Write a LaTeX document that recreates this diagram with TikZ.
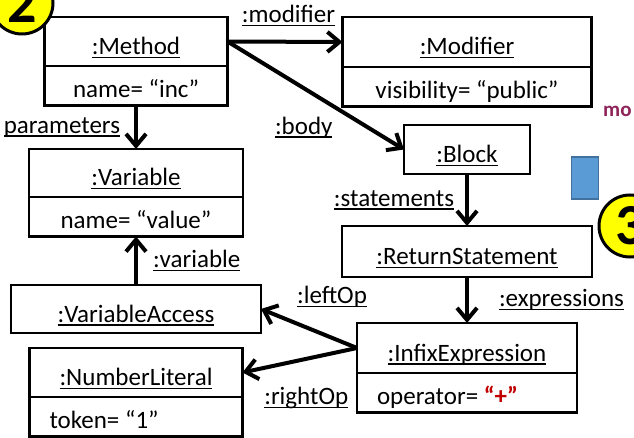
\documentclass[tikz,border=0pt]{standalone}
\usepackage{fontspec}
\setmainfont{Carlito}
\usepackage{tikz}
\usetikzlibrary{arrows.meta,positioning}
\definecolor{umlRed}{HTML}{C00000}
\definecolor{umlBlue}{HTML}{5B9BD5}
\definecolor{umlBlueD}{HTML}{41719C}
\definecolor{umlYel}{HTML}{FFFF00}
\definecolor{umlMag}{HTML}{8E2459}
\newcommand{\undl}[1]{\setbox0\hbox{#1}\rlap{\vrule height -2.2pt depth 3.5pt width \wd0}\box0}

\begin{document}
\begin{tikzpicture}[
  x=1pt, y=-1pt,
  font=\fontsize{25}{30}\selectfont,
  base/.style  = {draw, line width=2.3pt, inner sep=0pt, outer sep=0pt},
  head/.style  = {base, minimum height=49pt, text height=30pt, text depth=4pt},
  attr/.style  = {base, minimum height=39.5pt, text height=28pt, text depth=4pt},
  attrl/.style = {attr, align=flush left, inner xsep=20pt},
  arr/.style   = {-{Straight Barb[length=12pt, width=20pt]}, line width=4pt},
  lbl/.style   = {inner sep=1pt},
  badge/.style = {circle, draw, line width=3pt, fill=umlYel, minimum size=62pt,
                  inner sep=0pt, font=\fontsize{58}{60}\selectfont\bfseries},
]
\useasboundingbox (0,0) rectangle (634,438);
\clip (0,0) rectangle (634,438);
\fill[white] (0,0) rectangle (634,438);

%── Method and its modifier ───────────────────────────────────────────────
\node[head, minimum width=183pt] (meth) at (136,41.5) {\undl{:Method}};
\node[attr, minimum width=183pt, below=0pt of meth] (methv) {name= “inc”};
\node[head, minimum width=249pt, minimum height=50pt] (mod) at (467,42) {\undl{:Modifier}};
\node[attr, minimum width=249pt, below=0pt of mod] (modv) {visibility= “public”};

%── Left column ──────────────────────────────────────────────────────────
\node[head, minimum width=214pt, minimum height=48pt] (var) at (136,173) {\undl{:Variable}};
\node[attr, minimum width=214pt, below=0pt of var] (varv) {name= “value”};
\node[head, minimum width=250pt, minimum height=48pt] (vacc) at (136,309) {\undl{:VariableAccess}};
\node[head, minimum width=213pt] (num) at (136,372.5) {\undl{:NumberLiteral}};
\node[attrl, text width=173pt, below=0pt of num] (numv) {token= “1”};

%── Right column ─────────────────────────────────────────────────────────
\node[head, minimum width=126pt] (blk) at (467,149.5) {\undl{:Block}};
\node[head, minimum width=250pt, minimum height=51pt] (ret) at (467,251.5) {\undl{:ReturnStatement}};
\node[head, minimum width=220pt, minimum height=50pt] (infx) at (467,348) {\undl{:InfixExpression}};
\node[attrl, text width=180pt, below=0pt of infx] (infxv)
    {operator= \textcolor{umlRed}{\bfseries “+”}};

%── Links ────────────────────────────────────────────────────────────────
\draw[arr] (meth.east) -- (mod.west)
    node[lbl, midway, xshift=3.5pt, yshift=26pt] {\undl{:modifier}};
\draw[arr] (meth.east) -- (blk.west)
    node[lbl, midway, xshift=-12pt, yshift=-32pt] {\undl{:body}};
\draw[arr] (methv.south) -- (var.north)
    node[lbl, midway, left=13pt] {\undl{parameters}};
\draw[arr] (vacc.north) -- (varv.south)
    node[lbl, midway, right=14pt] {\undl{:variable}};
\draw[arr] (blk.south) -- (ret.north)
    node[lbl, midway, left=10pt] {\undl{:statements}};
\draw[arr] (ret.south) -- (infx.north)
    node[lbl, midway, right=29pt] {\undl{:expressions}};
\draw[arr] (infx.west) -- (vacc.east)
    node[lbl, midway, xshift=23pt, yshift=31.5pt] {\undl{:leftOp}};
\draw[arr] (infx.west) -- (num.east)
    node[lbl, midway, xshift=6.5pt, yshift=-38pt] {\undl{:rightOp}};

%── Slide leftovers at the edges ─────────────────────────────────────────
\node[badge] (b2) at (22,3) {2};
\node[badge] (b3) at (630,226) {3};
\node[draw=umlBlueD, fill=umlBlue, line width=1.5pt, minimum width=27pt,
      minimum height=42pt, inner sep=0pt] (sq) at (585,178) {};
\node[font=\fontsize{21}{24}\selectfont\bfseries, text=umlMag,
      anchor=base west, inner sep=0pt] (mo) at (603,117) {mo};

\end{tikzpicture}
\end{document}
